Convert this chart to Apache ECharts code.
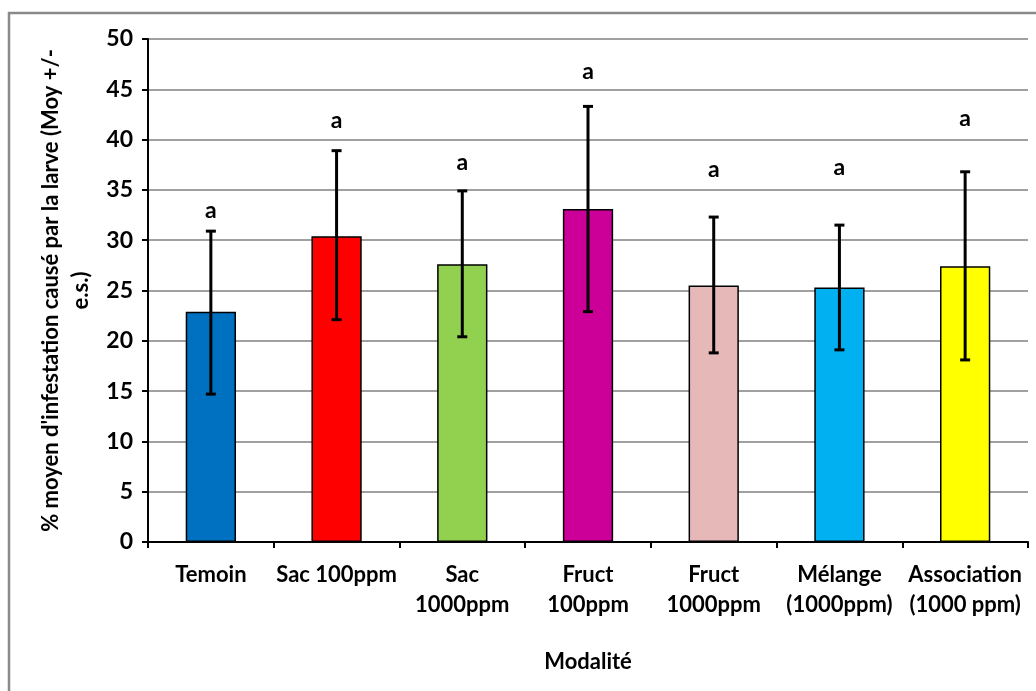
<!DOCTYPE html>
<html>
<head>
<meta charset="utf-8">
<script src="https://cdn.jsdelivr.net/npm/echarts@6/dist/echarts.min.js"></script>
<style>html,body{margin:0;padding:0;background:#fff;}#c{width:1036px;height:691px;}</style>
</head>
<body>
<div id="c"></div>
<script>
const categories = ['Temoin', 'Sac 100ppm', 'Sac\n1000ppm', 'Fruct\n100ppm', 'Fruct\n1000ppm', 'Mélange\n(1000ppm)', 'Association\n(1000 ppm)'];
const means = [22.9, 30.4, 27.6, 33.1, 25.5, 25.3, 27.4];
const errLow = [14.7, 22.1, 20.4, 22.9, 18.8, 19.1, 18.1];
const errHigh = [30.9, 38.9, 34.9, 43.3, 32.3, 31.5, 36.8];
const letters = ['a', 'a', 'a', 'a', 'a', 'a', 'a'];
const letterY = [32.9, 41.9, 37.7, 46.8, 37.0, 37.2, 42.1];
const colors = ['#0070C0', '#FF0000', '#92D050', '#CC0099', '#E6B9B8', '#00B0F0', '#FFFF00'];
const yTicks = [0, 5, 10, 15, 20, 25, 30, 35, 40, 45, 50];

const FONT = 'Lato';
const chart = echarts.init(document.getElementById('c'), null, {renderer: 'canvas'});
chart.setOption({
  animation: false,
  backgroundColor: '#fff',
  graphic: [{
    type: 'rect', z: 100, silent: true,
    shape: {x: 9, y: 13, width: 1040, height: 700},
    style: {fill: 'none', stroke: '#8a8a8a', lineWidth: 2.5}
  }],
  grid: {left: 148, right: 8, top: 39, bottom: 149, containLabel: false},
  xAxis: {
    type: 'category',
    data: categories,
    boundaryGap: true,
    name: 'Modalité',
    nameLocation: 'middle',
    nameGap: 109,
    nameTextStyle: {fontFamily: FONT, fontWeight: 'bold', fontSize: 22, color: '#000', verticalAlign: 'top'},
    axisLine: {lineStyle: {color: '#000', width: 2}},
    axisTick: {show: true, alignWithLabel: false, length: 6, lineStyle: {color: '#000', width: 2}},
    axisLabel: {interval: 0, margin: 18, fontFamily: FONT, fontWeight: 'bold', fontSize: 22, color: '#000', lineHeight: 30}
  },
  yAxis: {
    type: 'value',
    min: 0, max: 50, interval: 5,
    name: "% moyen d'infestation causé par la larve (Moy +/-\ne.s.)",
    nameLocation: 'middle',
    nameRotate: 90,
    nameGap: 50,
    nameTextStyle: {fontFamily: FONT, fontWeight: 'bold', fontSize: 22, color: '#000', lineHeight: 30, align: 'center'},
    axisLine: {show: true, lineStyle: {color: '#000', width: 2}},
    axisTick: {show: true, length: 6, lineStyle: {color: '#000', width: 2}},
    axisLabel: {margin: 15, fontFamily: FONT, fontWeight: 'bold', fontSize: 23, color: '#000',
      formatter: v => yTicks.includes(v) ? String(v) : ''},
    splitLine: {lineStyle: {color: '#a0a0a0', width: 2}}
  },
  series: [
    {
      type: 'bar',
      barWidth: '40%',
      data: means.map((v, i) => ({value: v, itemStyle: {color: colors[i]}})),
      itemStyle: {borderColor: '#000', borderWidth: 1.5},
      z: 2
    },
    {
      type: 'custom',
      z: 5,
      data: errLow.map((lo, i) => [i, lo, errHigh[i]]),
      renderItem: function (params, api) {
        const i = api.value(0);
        const lo = api.coord([i, api.value(1)]);
        const hi = api.coord([i, api.value(2)]);
        const cap = 5;
        const st = {stroke: '#000', lineWidth: 3};
        return {
          type: 'group',
          children: [
            {type: 'line', shape: {x1: hi[0], y1: hi[1], x2: lo[0], y2: lo[1]}, style: st},
            {type: 'line', shape: {x1: hi[0] - cap, y1: hi[1], x2: hi[0] + cap, y2: hi[1]}, style: st},
            {type: 'line', shape: {x1: lo[0] - cap, y1: lo[1], x2: lo[0] + cap, y2: lo[1]}, style: st}
          ]
        };
      }
    },
    {
      type: 'custom',
      z: 6,
      data: letterY.map((v, i) => [i, v]),
      renderItem: function (params, api) {
        const p = api.coord([api.value(0), api.value(1)]);
        return {
          type: 'text',
          x: p[0], y: p[1],
          style: {text: letters[params.dataIndex], fill: '#000', fontFamily: FONT, fontWeight: 'bold',
            fontSize: 23, align: 'center', verticalAlign: 'middle'}
        };
      }
    }
  ]
});
</script>
</body>
</html>
